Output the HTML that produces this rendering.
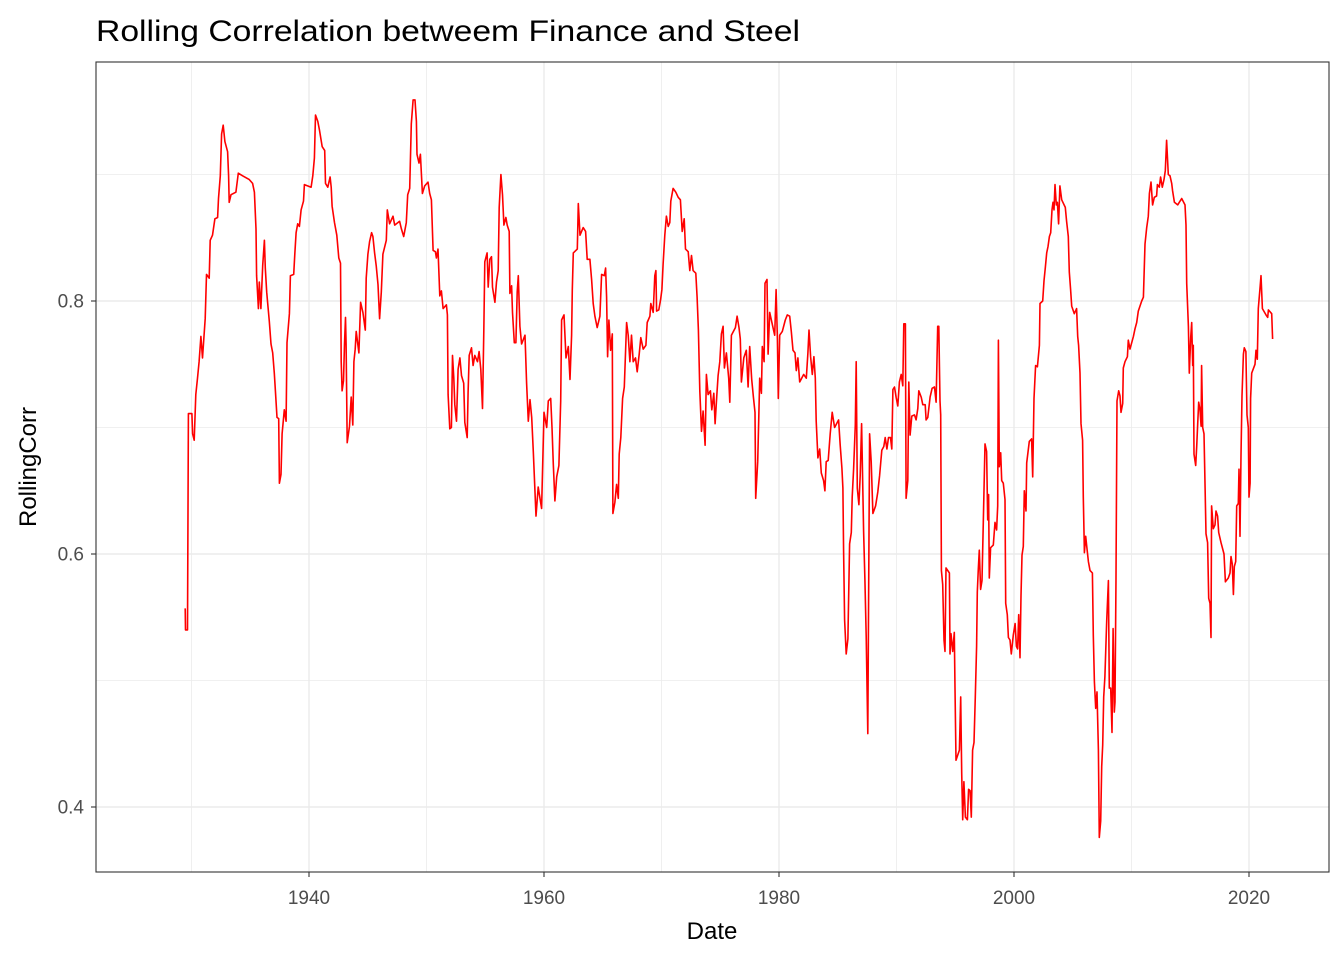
<!DOCTYPE html>
<html><head><meta charset="utf-8"><style>
html,body{margin:0;padding:0;background:#fff;}
svg{display:block;font-family:"Liberation Sans",Arial,sans-serif;}
</style></head><body>
<svg id="chart" width="1344" height="960" viewBox="0 0 1344 960">
<rect x="0" y="0" width="1344" height="960" fill="#fff"/>
<text x="96" y="41" font-size="30" fill="#000" textLength="704" lengthAdjust="spacingAndGlyphs">Rolling Correlation betweem Finance and Steel</text>
<g id="grid"></g>
<g id="series"></g>
<rect x="96" y="62" width="1233" height="810" fill="none" stroke="#333" stroke-width="1.1"/>
<g id="axes"></g>
<text x="712" y="939" font-size="24" text-anchor="middle" fill="#000">Date</text>
<text transform="translate(36,467) rotate(-90)" font-size="24" text-anchor="middle" fill="#000">RollingCorr</text>
</svg>
<script>
const xTicks=[1940,1960,1980,2000,2020];
const xMinor=[1930,1950,1970,1990,2010];
const yTicks=[0.4,0.6,0.8];
const yMinor=[0.5,0.7,0.9];
const years=[1929.46,1929.49,1929.66,1929.74,1930.03,1930.09,1930.23,1930.37,1930.51,1930.65,1930.80,1930.94,1931.17,1931.28,1931.51,1931.59,1931.79,1931.99,1932.22,1932.30,1932.45,1932.56,1932.70,1932.84,1933.07,1933.16,1933.21,1933.36,1933.78,1933.98,1934.35,1934.92,1935.20,1935.35,1935.49,1935.54,1935.69,1935.77,1935.91,1936.06,1936.20,1936.28,1936.40,1936.48,1936.62,1936.77,1936.91,1937.05,1937.14,1937.28,1937.42,1937.48,1937.62,1937.71,1937.90,1938.05,1938.13,1938.33,1938.42,1938.70,1938.79,1938.90,1939.04,1939.18,1939.33,1939.53,1939.61,1940.18,1940.32,1940.46,1940.55,1940.75,1940.89,1941.12,1941.34,1941.40,1941.60,1941.80,1941.89,1941.97,1942.17,1942.37,1942.54,1942.68,1942.74,1942.82,1942.94,1943.02,1943.11,1943.16,1943.25,1943.45,1943.59,1943.73,1943.82,1943.93,1944.02,1944.25,1944.39,1944.59,1944.79,1944.87,1945.01,1945.16,1945.33,1945.44,1945.58,1945.72,1945.87,1946.01,1946.15,1946.29,1946.58,1946.66,1946.86,1947.15,1947.29,1947.71,1947.86,1948.06,1948.28,1948.40,1948.57,1948.71,1948.86,1949.02,1949.14,1949.19,1949.36,1949.48,1949.65,1949.85,1950.13,1950.27,1950.42,1950.56,1950.76,1950.84,1950.98,1951.13,1951.27,1951.41,1951.69,1951.78,1951.84,1951.98,1952.12,1952.21,1952.32,1952.41,1952.55,1952.69,1952.84,1952.98,1953.17,1953.26,1953.46,1953.54,1953.63,1953.83,1953.97,1954.11,1954.34,1954.48,1954.62,1954.77,1954.88,1954.96,1955.16,1955.25,1955.39,1955.53,1955.62,1955.82,1955.96,1956.10,1956.19,1956.33,1956.47,1956.59,1956.76,1956.87,1957.04,1957.10,1957.24,1957.32,1957.47,1957.61,1957.72,1957.81,1957.95,1958.09,1958.38,1958.52,1958.66,1958.81,1958.95,1959.09,1959.32,1959.51,1959.80,1960.00,1960.23,1960.37,1960.57,1960.68,1960.79,1960.93,1961.08,1961.27,1961.42,1961.50,1961.70,1961.87,1962.07,1962.21,1962.35,1962.41,1962.49,1962.83,1962.92,1963.06,1963.34,1963.54,1963.68,1963.91,1964.05,1964.19,1964.33,1964.53,1964.76,1964.90,1965.13,1965.24,1965.33,1965.41,1965.52,1965.67,1965.81,1965.86,1966.03,1966.18,1966.32,1966.40,1966.54,1966.69,1966.83,1967.03,1967.17,1967.31,1967.45,1967.59,1967.79,1967.93,1968.10,1968.24,1968.44,1968.67,1968.78,1969.01,1969.09,1969.29,1969.43,1969.52,1969.58,1969.77,1969.92,1970.03,1970.14,1970.28,1970.42,1970.57,1970.71,1970.79,1970.99,1971.22,1971.42,1971.61,1971.76,1971.93,1972.04,1972.27,1972.41,1972.55,1972.69,1972.92,1973.03,1973.14,1973.26,1973.40,1973.54,1973.71,1973.82,1973.97,1974.16,1974.28,1974.45,1974.56,1974.70,1974.82,1974.96,1975.10,1975.24,1975.35,1975.52,1975.72,1975.81,1975.95,1976.29,1976.43,1976.60,1976.71,1976.80,1977.00,1977.22,1977.37,1977.51,1977.68,1977.82,1977.96,1978.02,1978.19,1978.27,1978.36,1978.50,1978.58,1978.73,1978.81,1978.98,1979.07,1979.21,1979.49,1979.63,1979.75,1979.86,1979.94,1980.06,1980.28,1980.54,1980.71,1980.91,1981.05,1981.19,1981.36,1981.47,1981.61,1981.76,1982.10,1982.32,1982.46,1982.55,1982.69,1982.83,1982.97,1983.09,1983.17,1983.31,1983.46,1983.60,1983.80,1983.91,1984.02,1984.19,1984.36,1984.53,1984.73,1985.07,1985.21,1985.35,1985.44,1985.50,1985.58,1985.72,1985.86,1986.01,1986.15,1986.23,1986.35,1986.49,1986.57,1986.66,1986.80,1986.91,1987.03,1987.20,1987.31,1987.42,1987.56,1987.71,1987.85,1987.99,1988.22,1988.41,1988.56,1988.75,1988.92,1989.04,1989.18,1989.32,1989.49,1989.60,1989.69,1989.83,1989.97,1990.11,1990.25,1990.40,1990.54,1990.62,1990.76,1990.82,1990.96,1991.05,1991.16,1991.30,1991.53,1991.67,1991.81,1991.90,1992.10,1992.24,1992.44,1992.52,1992.66,1992.86,1993.03,1993.23,1993.37,1993.51,1993.60,1993.70,1993.76,1993.82,1993.93,1994.04,1994.13,1994.21,1994.50,1994.55,1994.64,1994.78,1994.92,1994.98,1995.06,1995.35,1995.46,1995.55,1995.63,1995.74,1995.86,1996.03,1996.14,1996.26,1996.37,1996.48,1996.60,1996.71,1996.82,1996.88,1996.96,1997.05,1997.16,1997.28,1997.39,1997.53,1997.67,1997.76,1997.84,1997.90,1998.01,1998.24,1998.38,1998.52,1998.61,1998.67,1998.75,1998.87,1998.95,1999.09,1999.23,1999.29,1999.43,1999.52,1999.66,1999.77,1999.94,2000.09,2000.20,2000.31,2000.40,2000.51,2000.60,2000.68,2000.79,2000.88,2001.02,2001.08,2001.30,2001.50,2001.59,2001.70,2001.84,2001.99,2002.16,2002.21,2002.44,2002.55,2002.67,2002.78,2002.89,2003.01,2003.12,2003.23,2003.32,2003.40,2003.49,2003.60,2003.69,2003.80,2003.91,2004.06,2004.37,2004.48,2004.62,2004.71,2004.82,2004.91,2005.13,2005.33,2005.42,2005.50,2005.62,2005.70,2005.84,2005.90,2005.99,2006.10,2006.18,2006.33,2006.47,2006.67,2006.75,2006.84,2006.95,2007.06,2007.18,2007.26,2007.38,2007.46,2007.55,2007.63,2007.74,2007.89,2008.03,2008.11,2008.23,2008.34,2008.43,2008.54,2008.60,2008.68,2008.77,2008.91,2009.02,2009.11,2009.25,2009.30,2009.45,2009.65,2009.73,2009.87,2010.16,2010.30,2010.44,2010.58,2010.87,2011.01,2011.15,2011.29,2011.43,2011.52,2011.66,2011.80,2011.94,2012.14,2012.20,2012.37,2012.48,2012.62,2012.77,2012.88,2012.99,2013.13,2013.28,2013.42,2013.50,2013.65,2013.93,2014.07,2014.27,2014.55,2014.64,2014.70,2014.84,2014.92,2015.04,2015.12,2015.21,2015.26,2015.32,2015.46,2015.55,2015.63,2015.72,2015.83,2015.92,2015.97,2016.06,2016.17,2016.26,2016.34,2016.48,2016.57,2016.68,2016.77,2016.82,2016.96,2017.11,2017.19,2017.33,2017.42,2017.62,2017.87,2017.99,2018.24,2018.38,2018.47,2018.58,2018.67,2018.75,2018.87,2018.95,2019.09,2019.15,2019.23,2019.32,2019.40,2019.52,2019.60,2019.74,2019.83,2019.94,2020.00,2020.09,2020.14,2020.23,2020.51,2020.60,2020.71,2020.79,2020.94,2021.02,2021.14,2021.45,2021.59,2021.65,2021.93,2022.01];
const corrValues=[0.557,0.54,0.54,0.711,0.711,0.695,0.69,0.726,0.739,0.752,0.772,0.755,0.786,0.821,0.818,0.848,0.852,0.865,0.866,0.881,0.899,0.932,0.939,0.926,0.918,0.899,0.878,0.884,0.886,0.901,0.899,0.896,0.893,0.886,0.857,0.82,0.794,0.815,0.794,0.828,0.848,0.826,0.807,0.799,0.784,0.766,0.759,0.743,0.729,0.708,0.707,0.656,0.663,0.695,0.714,0.705,0.767,0.79,0.82,0.821,0.837,0.854,0.861,0.859,0.872,0.879,0.892,0.89,0.899,0.913,0.947,0.942,0.935,0.922,0.919,0.893,0.89,0.898,0.89,0.875,0.862,0.852,0.834,0.83,0.752,0.729,0.737,0.766,0.787,0.766,0.688,0.701,0.724,0.702,0.752,0.762,0.776,0.759,0.799,0.791,0.777,0.818,0.837,0.847,0.854,0.851,0.838,0.828,0.813,0.786,0.807,0.837,0.848,0.872,0.861,0.867,0.86,0.863,0.857,0.851,0.862,0.884,0.889,0.94,0.959,0.959,0.942,0.916,0.909,0.916,0.885,0.891,0.894,0.885,0.88,0.84,0.839,0.834,0.841,0.804,0.808,0.794,0.797,0.789,0.726,0.699,0.70,0.757,0.739,0.718,0.705,0.746,0.755,0.741,0.735,0.704,0.692,0.728,0.757,0.763,0.749,0.757,0.752,0.760,0.746,0.715,0.776,0.831,0.838,0.811,0.833,0.835,0.811,0.799,0.815,0.824,0.874,0.90,0.884,0.86,0.866,0.86,0.855,0.806,0.812,0.791,0.767,0.767,0.807,0.82,0.78,0.766,0.773,0.735,0.705,0.722,0.708,0.681,0.63,0.653,0.636,0.712,0.70,0.721,0.723,0.70,0.671,0.642,0.661,0.67,0.721,0.785,0.789,0.755,0.764,0.738,0.773,0.809,0.838,0.841,0.877,0.852,0.858,0.855,0.833,0.833,0.817,0.798,0.788,0.779,0.788,0.821,0.820,0.826,0.803,0.756,0.785,0.761,0.774,0.632,0.641,0.655,0.644,0.679,0.692,0.723,0.732,0.783,0.773,0.752,0.773,0.752,0.755,0.744,0.758,0.771,0.762,0.765,0.783,0.788,0.798,0.791,0.82,0.824,0.792,0.793,0.801,0.809,0.829,0.852,0.867,0.859,0.862,0.879,0.889,0.886,0.882,0.88,0.855,0.865,0.841,0.839,0.824,0.836,0.824,0.822,0.803,0.777,0.729,0.697,0.713,0.686,0.742,0.726,0.729,0.714,0.727,0.703,0.724,0.741,0.752,0.774,0.78,0.747,0.759,0.739,0.72,0.773,0.779,0.788,0.779,0.77,0.736,0.755,0.761,0.732,0.764,0.738,0.724,0.712,0.644,0.673,0.705,0.739,0.727,0.764,0.752,0.814,0.817,0.758,0.791,0.779,0.773,0.809,0.77,0.723,0.773,0.776,0.785,0.789,0.788,0.776,0.761,0.759,0.745,0.755,0.736,0.742,0.739,0.759,0.777,0.756,0.742,0.756,0.739,0.705,0.676,0.683,0.664,0.658,0.65,0.673,0.674,0.695,0.712,0.70,0.706,0.686,0.668,0.652,0.602,0.548,0.521,0.533,0.608,0.617,0.645,0.667,0.702,0.752,0.652,0.639,0.662,0.703,0.618,0.58,0.535,0.458,0.695,0.673,0.632,0.638,0.649,0.662,0.682,0.685,0.692,0.683,0.692,0.692,0.683,0.730,0.732,0.724,0.717,0.736,0.742,0.733,0.782,0.782,0.644,0.658,0.736,0.694,0.709,0.71,0.706,0.715,0.729,0.724,0.718,0.718,0.706,0.708,0.724,0.731,0.732,0.72,0.78,0.78,0.721,0.71,0.587,0.576,0.532,0.523,0.589,0.585,0.521,0.537,0.523,0.538,0.494,0.437,0.445,0.487,0.427,0.39,0.42,0.392,0.39,0.414,0.413,0.392,0.445,0.451,0.487,0.527,0.570,0.588,0.603,0.572,0.579,0.625,0.687,0.681,0.627,0.647,0.581,0.605,0.607,0.625,0.619,0.638,0.769,0.669,0.68,0.658,0.656,0.643,0.561,0.552,0.534,0.532,0.521,0.536,0.545,0.527,0.525,0.552,0.518,0.567,0.599,0.606,0.65,0.634,0.672,0.689,0.691,0.661,0.723,0.749,0.748,0.765,0.798,0.8,0.816,0.827,0.838,0.843,0.851,0.854,0.872,0.878,0.872,0.892,0.876,0.878,0.861,0.891,0.88,0.874,0.863,0.851,0.823,0.809,0.796,0.79,0.794,0.772,0.765,0.743,0.703,0.69,0.645,0.601,0.614,0.607,0.594,0.587,0.585,0.536,0.499,0.478,0.491,0.445,0.376,0.389,0.432,0.449,0.487,0.503,0.547,0.579,0.494,0.494,0.459,0.541,0.475,0.483,0.581,0.721,0.729,0.725,0.712,0.719,0.747,0.752,0.756,0.769,0.762,0.772,0.778,0.783,0.792,0.8,0.803,0.845,0.858,0.867,0.885,0.894,0.876,0.882,0.883,0.892,0.89,0.898,0.89,0.896,0.903,0.927,0.9,0.899,0.893,0.887,0.878,0.876,0.878,0.881,0.876,0.86,0.814,0.78,0.743,0.771,0.783,0.749,0.765,0.679,0.67,0.685,0.703,0.72,0.714,0.701,0.749,0.70,0.695,0.652,0.616,0.609,0.565,0.561,0.534,0.638,0.62,0.623,0.634,0.63,0.617,0.609,0.6,0.578,0.581,0.585,0.598,0.592,0.568,0.59,0.594,0.638,0.64,0.667,0.614,0.678,0.725,0.758,0.763,0.76,0.71,0.70,0.645,0.656,0.723,0.743,0.75,0.761,0.754,0.794,0.81,0.82,0.794,0.789,0.787,0.793,0.79,0.77];

const NS="http://www.w3.org/2000/svg";
const X0=96,X1=1329,Y0=62,Y1=872;
function xScale(yr){return 309+(yr-1940)*11.75;}
function yScale(v){return 301-(v-0.8)*1265;}
function mk(tag,attrs,parent){const e=document.createElementNS(NS,tag);for(const k in attrs)e.setAttribute(k,attrs[k]);parent.appendChild(e);return e;}
const grid=document.getElementById('grid'),axes=document.getElementById('axes'),series=document.getElementById('series');
mk('rect',{x:X0,y:Y0,width:X1-X0,height:Y1-Y0,fill:'#fff'},grid);
yMinor.forEach(v=>{const l=mk('line',{x1:X0,x2:X1,y1:yScale(v),y2:yScale(v),stroke:'#ebebeb','stroke-width':0.8},grid);

});
xMinor.forEach(v=>{const l=mk('line',{y1:Y0,y2:Y1,x1:xScale(v),x2:xScale(v),stroke:'#ebebeb','stroke-width':0.8},grid);

});
yTicks.forEach(v=>{const y=yScale(v);
const l=mk('line',{x1:X0,x2:X1,y1:y,y2:y,stroke:'#ebebeb','stroke-width':1.4},grid);


const t=mk('line',{x1:91,x2:96,y1:y,y2:y,stroke:'#333','stroke-width':1.1},axes);


const tx=mk('text',{x:84,y:y+6.5,'font-size':19,'text-anchor':'end',fill:'#4d4d4d'},axes);
tx.textContent=v.toFixed(1);

});
xTicks.forEach(v=>{const x=xScale(v);
const l=mk('line',{y1:Y0,y2:Y1,x1:x,x2:x,stroke:'#ebebeb','stroke-width':1.4},grid);


const t=mk('line',{y1:872,y2:877,x1:x,x2:x,stroke:'#333','stroke-width':1.1},axes);


const tx=mk('text',{x:x,y:904,'font-size':19,'text-anchor':'middle',fill:'#4d4d4d'},axes);
tx.textContent=String(v);

});
const pts=years.map((yr,i)=>xScale(yr).toFixed(1)+','+yScale(corrValues[i]).toFixed(1)).join(' ');
const line=mk('polyline',{points:pts,fill:'none',stroke:'#ff0000','stroke-width':1.6,'stroke-linejoin':'round'},series);


</script>
</body></html>
